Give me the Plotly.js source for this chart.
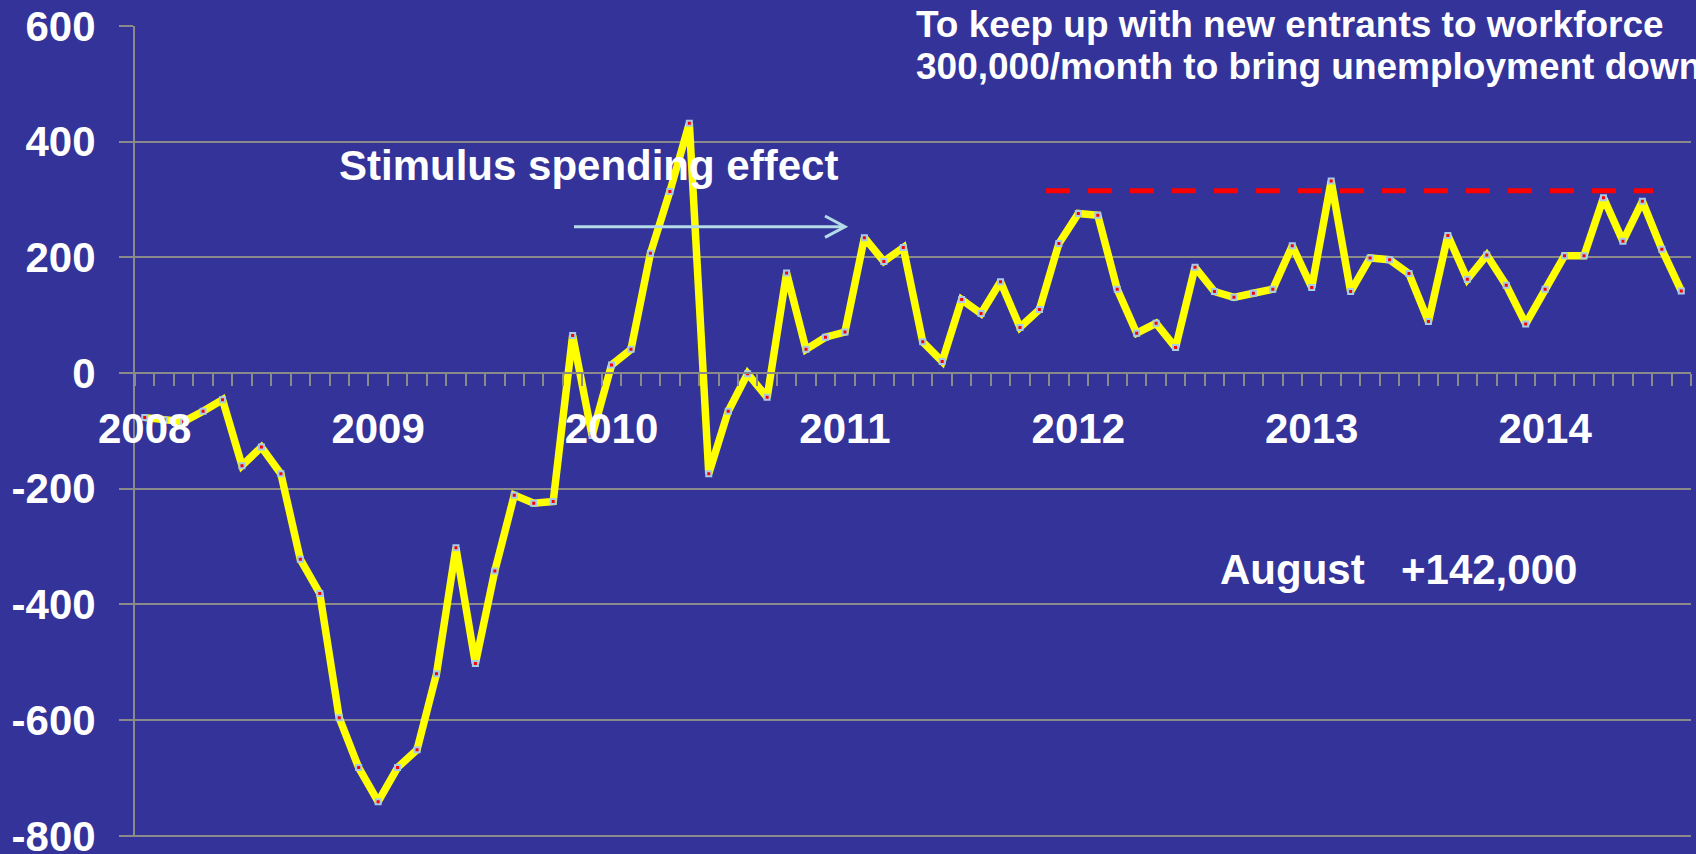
<!DOCTYPE html>
<html>
<head>
<meta charset="utf-8">
<script src="https://cdn.plot.ly/plotly-3.0.1.min.js"></script>
<style>
  html, body { margin: 0; padding: 0; background: #333399; }
  #chart { width: 1696px; height: 854px; }
</style>
</head>
<body>
<div id="chart"></div>
<script>
// ---- data ----
const years = ['2008', '2009', '2010', '2011', '2012', '2013', '2014'];
const monthNames = ['Jan', 'Feb', 'Mar', 'Apr', 'May', 'Jun', 'Jul', 'Aug', 'Sep', 'Oct', 'Nov', 'Dec'];
const lastMonthCount2014 = 8; // through August 2014

// monthly change in nonfarm payrolls, thousands
const jobs2008 = [-77, -81, -84, -66, -46, -160, -128, -174, -322, -381, -596, -682];
const jobs2009 = [-741, -682, -651, -520, -302, -502, -342, -211, -225, -222, 65, -108];
const jobs2010 = [14, 41, 207, 314, 432, -174, -66, -1, -42, 173, 41, 62];
const jobs2011 = [71, 234, 193, 217, 54, 20, 127, 103, 158, 79, 110, 224];
const jobs2012 = [276, 273, 145, 69, 86, 44, 183, 141, 131, 138, 145, 220];
const jobs2013 = [148, 332, 141, 199, 196, 172, 89, 238, 162, 204, 152, 85];
const jobs2014 = [145, 203, 203, 303, 228, 297, 214, 142];

const targetLevel = 315;   // red dashed reference line
const yTickValues = [-800, -600, -400, -200, 0, 200, 400, 600];
const yTickLabels = ['-800', '-600', '-400', '-200', '0', '200', '400', '600'];

const stimulusText = 'Stimulus spending effect';
const noteLine1 = 'To keep up with new entrants to workforce';
const noteLine2 = '300,000/month to bring unemployment down';
const latestMonthText = 'August';
const latestValueText = '+142,000';

// ---- build ----
const months = [];
years.forEach(function (yr) {
  const n = (yr === '2014') ? lastMonthCount2014 : 12;
  for (let m = 0; m < n; m++) months.push(monthNames[m] + ' ' + yr);
});
const jobChange = [].concat(jobs2008, jobs2009, jobs2010, jobs2011, jobs2012, jobs2013, jobs2014);
const xTickLabels = months.map(function (m) { return m.indexOf('Jan ') === 0 ? m.slice(4) : ''; });

// pixel helpers for decorations (plot area: x 135..1691, y 26..837)
const L = 135, R = 1691, T = 26, B = 837;
const Y_MIN = -802, Y_MAX = 600;
function px(x) { return (x - L) / (R - L); }
function py(y) { return (B - y) / (B - T); }

const FONT = 'Liberation Sans, Arial, Helvetica, sans-serif';
const GRID = '#8a8a8a';
const ARROW = '#b4dce8';

const trace = {
  type: 'scatter',
  mode: 'lines+markers',
  x: months,
  y: jobChange,
  line: { color: '#ffff00', width: 7.5 },
  marker: { symbol: 'square', size: 5, color: '#ff0000', line: { color: '#a8cce6', width: 2 } },
  hoverinfo: 'x+y'
};

const layout = {
  width: 1696,
  height: 854,
  margin: { l: L, r: 1696 - R, t: T, b: 854 - B },
  paper_bgcolor: '#333399',
  plot_bgcolor: '#333399',
  showlegend: false,
  font: { family: FONT, color: '#ffffff', size: 42, weight: 700 },
  xaxis: {
    type: 'category',
    range: [-0.5, months.length - 0.5],
    tickmode: 'array',
    tickvals: months,
    ticktext: xTickLabels,
    tickson: 'boundaries',
    ticks: 'outside',
    ticklen: 12,
    tickwidth: 2,
    tickcolor: GRID,
    showgrid: false,
    zeroline: false,
    showline: true,
    linecolor: GRID,
    linewidth: 2,
    anchor: 'free',
    position: (0 - Y_MIN) / (Y_MAX - Y_MIN),
    tickangle: 0,
    tickfont: { family: FONT, size: 42, color: '#ffffff', weight: 700 },
    ticklabelstandoff: 19,
    fixedrange: true
  },
  yaxis: {
    range: [Y_MIN, Y_MAX],
    tickmode: 'array',
    tickvals: yTickValues,
    ticktext: yTickLabels,
    ticks: 'outside',
    ticklen: 14,
    tickwidth: 2,
    tickcolor: GRID,
    showgrid: true,
    gridcolor: GRID,
    gridwidth: 2,
    zeroline: false,
    showline: true,
    linecolor: GRID,
    linewidth: 2,
    tickfont: { family: FONT, size: 42, color: '#ffffff', weight: 700 },
    ticklabelstandoff: 15,
    ticklabeloverflow: 'allow',
    fixedrange: true
  },
  shapes: [
    // red dashed reference line
    { type: 'line', xref: 'paper', yref: 'y', x0: px(1046), x1: px(1653), y0: targetLevel, y1: targetLevel,
      line: { color: '#ff0000', width: 5, dash: '24px,18px' }, layer: 'above' },
    // arrow shaft
    { type: 'line', xref: 'paper', yref: 'paper', x0: px(574), x1: px(844), y0: py(226.7), y1: py(226.7),
      line: { color: ARROW, width: 3 }, layer: 'above' },
    // arrow head
    { type: 'path', xref: 'paper', yref: 'paper',
      path: 'M ' + px(825) + ' ' + py(216) + ' L ' + px(845) + ' ' + py(226.7) + ' L ' + px(825) + ' ' + py(237.4),
      line: { color: ARROW, width: 3 }, layer: 'above' }
  ],
  annotations: [
    { text: stimulusText, xref: 'paper', yref: 'paper', x: px(337), y: py(165), xanchor: 'left', yanchor: 'middle',
      showarrow: false, font: { family: FONT, size: 42, color: '#ffffff', weight: 700 } },
    { text: noteLine1, xref: 'paper', yref: 'paper', x: px(914), y: py(25), xanchor: 'left', yanchor: 'middle',
      showarrow: false, font: { family: FONT, size: 37, color: '#ffffff', weight: 700 } },
    { text: noteLine2, xref: 'paper', yref: 'paper', x: px(914), y: py(67), xanchor: 'left', yanchor: 'middle',
      showarrow: false, font: { family: FONT, size: 37, color: '#ffffff', weight: 700 } },
    { text: latestMonthText, xref: 'paper', yref: 'paper', x: px(1218), y: py(569), xanchor: 'left', yanchor: 'middle',
      showarrow: false, font: { family: FONT, size: 42, color: '#ffffff', weight: 700 } },
    { text: latestValueText, xref: 'paper', yref: 'paper', x: px(1399), y: py(569), xanchor: 'left', yanchor: 'middle',
      showarrow: false, font: { family: FONT, size: 42, color: '#ffffff', weight: 700 } }
  ]
};

Plotly.newPlot('chart', [trace], layout, { displayModeBar: false, staticPlot: true });
</script>
</body>
</html>
